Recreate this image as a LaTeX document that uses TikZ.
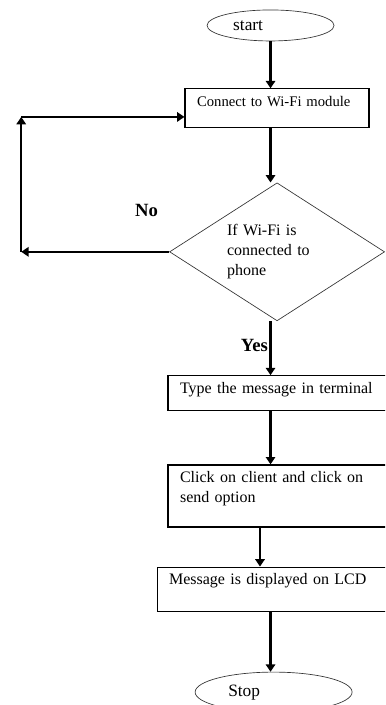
\documentclass[tikz,border=0pt]{standalone}
\usepackage{fontspec}
\setmainfont{Liberation Serif}
\usetikzlibrary{arrows.meta,positioning,shapes.geometric,calc}

\begin{document}
\begin{tikzpicture}[
        node distance=0.8cm,
        font=\fontsize{12}{15}\selectfont,
        block/.style={rectangle, draw, line width=0.9pt, align=left, inner xsep=9pt, inner ysep=5pt, text height=8pt},
        term/.style={ellipse, draw=black!80, line width=0.5pt, inner sep=0pt, align=left, font=\fontsize{13}{15}\selectfont},
        decision/.style={diamond, draw=black!80, line width=0.5pt, inner sep=0pt, align=left, aspect=1.56},
        lbl/.style={inner sep=0pt, font=\fontsize{14}{16}\selectfont\bfseries},
        arrow/.style={-{Triangle[length=5.5pt, width=7pt]}, line width=1.8pt}
        ]

        \useasboundingbox (0,0) rectangle (288.75pt,-528.75pt);
        \clip (0,0) rectangle (288.75pt,-528.75pt);

        \node[term, minimum width=95.25pt, minimum height=23.25pt, text width=56pt] (start) at (202.9pt,-19.1pt) {start};
        \node[block, below=35.25pt of start, xshift=4.9pt, text width=120pt, text depth=11.25pt, font=\fontsize{11}{15}\selectfont] (connect) {Connect to Wi-Fi module};
        \node[decision, below=40.5pt of connect, minimum width=161.25pt, minimum height=103.5pt, text width=75pt] (wifi) {If Wi-Fi is\\ connected to\\ phone};
        \node[block, below=40.5pt of wifi, xshift=4.5pt, text width=154.5pt, text depth=8.25pt] (type) {Type the message in terminal};
        \node[block, below=39.75pt of type, text width=154.5pt, text depth=28.5pt] (click) {Click on client and click on\\ send option};
        \node[block, below=29.25pt of click, xshift=-4.1pt, text width=162.75pt, text depth=15pt] (display) {Message is displayed on LCD};
        \node[term, below=45pt of display, xshift=-3pt, minimum width=117.75pt, minimum height=30pt, text width=68pt] (stop) {Stop};

        \node[lbl, above left=26.25pt and 8.25pt of wifi.west] (no) {No};
        \node[lbl, below left=13.2pt and 6.75pt of wifi.south] (yes) {Yes};

        \coordinate[left=111pt of wifi.west] (loopa);
        \coordinate (loopb) at ($(loopa |- connect.west)+(0,-6.4pt)$);

        \draw[arrow] (start) -- (start |- connect.north);
        \draw[arrow] (start |- connect.south) -- (start |- wifi.north);
        \draw[arrow] (start |- wifi.south) -- (start |- type.north);
        \draw[arrow] (start |- type.south) -- (start |- click.north);
        \draw[arrow] ($(start |- click.south)+(-7.9pt,0)$) -- ($(start |- display.north)+(-7.9pt,0)$);
        \draw[arrow] (start |- display.south) -- (start |- stop.north);

        \draw[arrow] (wifi.west) -- (loopa);
        \draw[arrow] (loopa) -- (loopb);
        \draw[arrow] (loopb) -- (loopb -| connect.west);
    \end{tikzpicture}
\end{document}
